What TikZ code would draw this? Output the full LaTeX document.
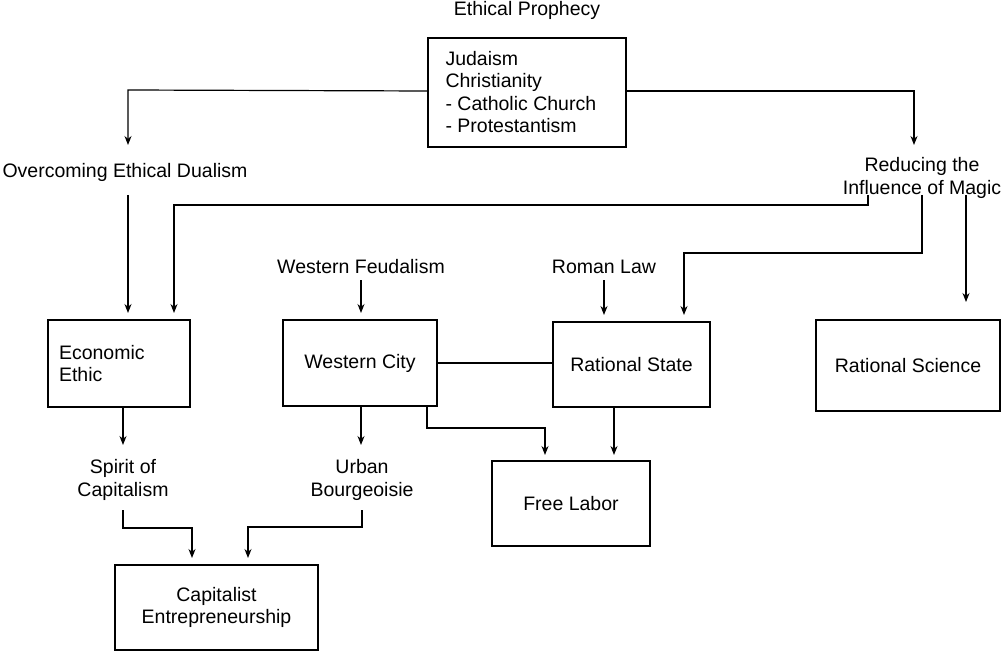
\documentclass[tikz,border=0pt]{standalone}
\usepackage{fontspec}
\setmainfont{Liberation Sans}
\usetikzlibrary{arrows.meta}
\begin{document}
\begin{tikzpicture}[x=1pt,y=-1pt,
  every node/.style={font=\fontsize{19.5}{22.5}\selectfont},
  lbl/.style={align=center},
  con/.style={line width=1.2pt},
  arr/.style={con,-{Stealth[length=9pt,width=7pt]}}]
\useasboundingbox (0,0) rectangle (1003,652);
% boxes
\draw[line width=1.2pt] (428,38) rectangle (626,147);
\node (top) [anchor=west,align=left] at (442,92) {Judaism\\Christianity\\- Catholic Church\\- Protestantism};
\coordinate (topL) at (428,91); \coordinate (topR) at (626,91);
\node (ee) [draw,line width=1.2pt,minimum width=142pt,minimum height=87pt,align=left,text width=124pt,inner sep=0pt] at (119,363.5) {\hspace*{2pt}Economic\\\hspace*{2pt}Ethic};
\node (wc) [draw,line width=1.2pt,minimum width=154pt,minimum height=86pt] at (360,363) {Western City};
\node (rs) [draw,line width=1.2pt,minimum width=157pt,minimum height=85pt] at (631.5,364.5) {Rational State};
\node (rsc) [draw,line width=1.2pt,minimum width=184pt,minimum height=91pt] at (908,365.5) {Rational Science};
\node (fl) [draw,line width=1.2pt,minimum width=158pt,minimum height=85pt] at (571,503.5) {Free Labor};
\node (ce) [draw,line width=1.2pt,minimum width=203pt,minimum height=85pt,align=center] at (216.5,607.5) {Capitalist\\Entrepreneurship};
% labels
\node (ep) at (527,10) {Ethical Prophecy};
\node (oed) at (125,172) {Overcoming Ethical Dualism};
\node (rim) [lbl] at (922,178) {Reducing the\\Influence of Magic};
\node (wf) at (361,267) {Western Feudalism};
\node (rl) at (604,267) {Roman Law};
\node (sc) [lbl] at (123,480) {Spirit of\\Capitalism};
\node (ub) [lbl] at (362,480) {Urban\\Bourgeoisie};
% connectors
\draw[arr] (topL) -- (128,90) -- (128,145);
\draw[arr] (topR) -- (914,91) -- (914,145);
\draw[arr] (128,195) -- (128,313);
\draw[arr] (868,195) -- (868,205) -- (174,205) -- (174,313);
\draw[arr] (922,195) -- (922,253) -- (684,253) -- (684,315);
\draw[arr] (966,195) -- (966,302);
\draw[arr] (361,280) -- (361,313);
\draw[arr] (604,280) -- (604,315);
\draw[con] (wc.east) -- (rs.west |- wc.east);
\draw[arr] (361,406) -- (361,445);
\draw[arr] (427,406) -- (427,428) -- (545,428) -- (545,455);
\draw[arr] (614,407) -- (614,455);
\draw[arr] (123,407) -- (123,445);
\draw[arr] (123,510) -- (123,528) -- (192,528) -- (192,558);
\draw[arr] (362,510) -- (362,527) -- (248,527) -- (248,558);
\end{tikzpicture}
\end{document}
